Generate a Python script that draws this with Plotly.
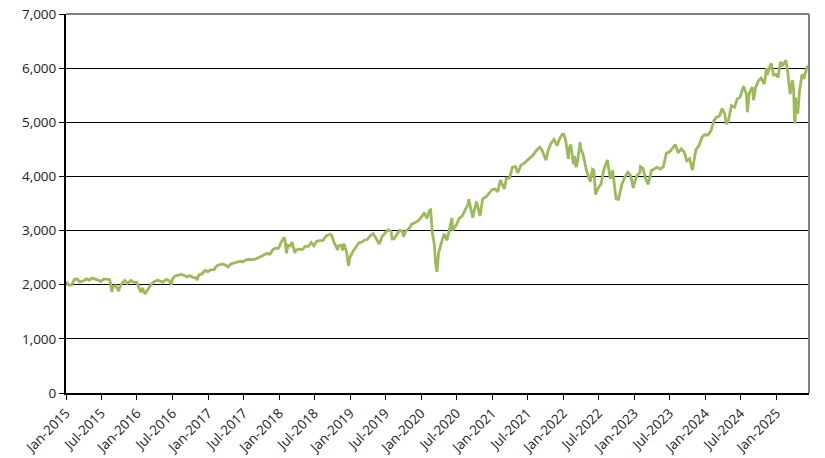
import plotly.graph_objects as go

dates = [
"2015-01-02","2015-01-15","2015-01-30","2015-02-13","2015-02-27","2015-03-13","2015-03-31","2015-04-15","2015-04-30",
"2015-05-15","2015-05-29","2015-06-15","2015-06-30","2015-07-15","2015-07-31","2015-08-14","2015-08-25","2015-08-31",
"2015-09-15","2015-09-29","2015-09-30","2015-10-15","2015-10-30","2015-11-13","2015-11-30","2015-12-15","2015-12-31",
"2016-01-15","2016-01-20","2016-01-29","2016-02-11","2016-02-29","2016-03-15","2016-03-31","2016-04-15","2016-04-29",
"2016-05-13","2016-05-31","2016-06-15","2016-06-27","2016-06-30","2016-07-15","2016-07-29","2016-08-15","2016-08-31",
"2016-09-15","2016-09-30","2016-10-14","2016-10-31","2016-11-04","2016-11-15","2016-11-30","2016-12-15","2016-12-30",
"2017-01-13","2017-01-31","2017-02-15","2017-02-28","2017-03-15","2017-03-31","2017-04-13","2017-04-28","2017-05-15",
"2017-05-31","2017-06-15","2017-06-30","2017-07-14","2017-07-31","2017-08-15","2017-08-31","2017-09-15","2017-09-29",
"2017-10-13","2017-10-31","2017-11-15","2017-11-30","2017-12-15","2017-12-29",
"2018-01-12","2018-01-26","2018-01-31","2018-02-08","2018-02-15","2018-02-28","2018-03-09","2018-03-23","2018-03-29",
"2018-04-13","2018-04-30","2018-05-15","2018-05-31","2018-06-15","2018-06-29","2018-07-13","2018-07-31","2018-08-15",
"2018-08-31","2018-09-20","2018-09-28","2018-10-10","2018-10-29","2018-10-31","2018-11-15","2018-11-23","2018-11-30",
"2018-12-14","2018-12-24","2018-12-31",
"2019-01-15","2019-01-31","2019-02-15","2019-02-28","2019-03-15","2019-03-29","2019-04-15","2019-04-30","2019-05-15",
"2019-05-31","2019-06-14","2019-06-28","2019-07-15","2019-07-31","2019-08-05","2019-08-15","2019-08-30","2019-09-13",
"2019-09-30","2019-10-02","2019-10-15","2019-10-31","2019-11-15","2019-11-29","2019-12-13","2019-12-31",
"2020-01-17","2020-01-31","2020-02-14","2020-02-19","2020-02-28","2020-03-09","2020-03-16","2020-03-23","2020-03-31",
"2020-04-15","2020-04-29","2020-05-13","2020-05-29","2020-06-08","2020-06-11","2020-06-30","2020-07-15","2020-07-31",
"2020-08-14","2020-08-31","2020-09-02","2020-09-23","2020-09-30","2020-10-12","2020-10-30","2020-11-13","2020-11-30",
"2020-12-15","2020-12-31",
"2021-01-15","2021-01-29","2021-02-12","2021-02-26","2021-03-04","2021-03-15","2021-03-31","2021-04-15","2021-04-30",
"2021-05-12","2021-05-28","2021-06-15","2021-06-30","2021-07-15","2021-07-30","2021-08-16","2021-08-31","2021-09-02",
"2021-09-15","2021-09-30","2021-10-04","2021-10-15","2021-10-29","2021-11-15","2021-11-30","2021-12-15","2021-12-29",
"2021-12-31",
"2022-01-03","2022-01-14","2022-01-27","2022-01-31","2022-02-09","2022-02-23","2022-02-28","2022-03-08","2022-03-15",
"2022-03-29","2022-03-31","2022-04-14","2022-04-29","2022-05-11","2022-05-20","2022-05-31","2022-06-08","2022-06-16",
"2022-06-30","2022-07-15","2022-07-29","2022-08-16","2022-08-31","2022-09-12","2022-09-30","2022-10-12","2022-10-31",
"2022-11-15","2022-11-30","2022-12-13","2022-12-28","2022-12-30",
"2023-01-13","2023-01-31","2023-02-02","2023-02-15","2023-02-28","2023-03-13","2023-03-31","2023-04-14","2023-04-28",
"2023-05-15","2023-05-31","2023-06-15","2023-06-30","2023-07-14","2023-07-31","2023-08-15","2023-08-31","2023-09-15",
"2023-09-29","2023-10-13","2023-10-27","2023-10-31","2023-11-15","2023-11-30","2023-12-15","2023-12-29",
"2024-01-16","2024-01-31","2024-02-15","2024-02-29","2024-03-15","2024-03-28","2024-04-10","2024-04-19","2024-04-30",
"2024-05-15","2024-05-31","2024-06-14","2024-06-28","2024-07-16","2024-07-31","2024-08-05","2024-08-15","2024-08-30",
"2024-09-06","2024-09-16","2024-09-30","2024-10-15","2024-10-31","2024-11-11","2024-11-15","2024-11-29","2024-12-06",
"2024-12-18","2024-12-31",
"2025-01-10","2025-01-23","2025-01-31","2025-02-19","2025-02-28","2025-03-13","2025-03-25","2025-03-31","2025-04-04",
"2025-04-08","2025-04-09","2025-04-21","2025-04-30","2025-05-13","2025-05-23","2025-05-30","2025-06-06","2025-06-12",
]

values = [
2058,1992,1995,2097,2105,2053,2068,2107,2086,
2123,2107,2084,2063,2108,2104,2092,1868,1972,
1979,1884,1920,2023,2079,2023,2080,2043,2044,
1880,1859,1940,1829,1932,2015,2060,2081,2065,
2047,2097,2072,2001,2099,2162,2174,2190,2171,
2147,2168,2133,2126,2085,2180,2199,2262,2239,
2275,2279,2350,2364,2385,2363,2329,2384,2402,
2412,2433,2423,2459,2470,2464,2472,2500,2519,
2553,2575,2565,2648,2676,2674,
2786,2873,2824,2581,2732,2714,2786,2588,2641,
2656,2648,2711,2705,2780,2718,2801,2816,2819,
2902,2931,2914,2786,2641,2712,2730,2633,2760,
2600,2351,2507,
2610,2704,2776,2784,2822,2834,2906,2946,2850,
2752,2887,2942,3014,2980,2844,2847,2926,3007,
2977,2887,2996,3038,3120,3141,3169,3231,
3330,3226,3380,3386,2954,2747,2386,2237,2585,
2784,2939,2820,3044,3232,3002,3100,3227,3271,
3373,3500,3580,3237,3363,3534,3270,3585,3622,
3695,3756,
3768,3714,3934,3811,3768,3969,3973,4170,4181,
4063,4204,4246,4298,4360,4395,4479,4523,4537,
4480,4308,4300,4471,4605,4683,4567,4709,4793,
4766,
4796,4663,4326,4516,4587,4226,4374,4170,4262,
4631,4530,4392,4132,4001,3901,4132,4116,3666,
3785,3863,4130,4305,3955,4110,3586,3577,3872,
3992,4080,4019,3783,3840,
3999,4077,4179,4148,3970,3855,4109,4137,4169,
4136,4180,4426,4450,4505,4589,4437,4508,4450,
4288,4327,4117,4194,4502,4568,4719,4770,
4766,4846,5030,5096,5117,5254,5161,4967,5036,
5308,5278,5432,5460,5667,5522,5186,5543,5648,
5408,5634,5762,5815,5705,6001,5870,6032,6090,
5872,5882,
5827,6119,6041,6144,5955,5521,5777,5612,5074,
4982,5457,5158,5569,5886,5802,5912,6000,6045,
]

tick_dates = ["2015-01-01","2015-07-01","2016-01-01","2016-07-01","2017-01-01","2017-07-01","2018-01-01",
              "2018-07-01","2019-01-01","2019-07-01","2020-01-01","2020-07-01","2021-01-01","2021-07-01",
              "2022-01-01","2022-07-01","2023-01-01","2023-07-01","2024-01-01","2024-07-01","2025-01-01"]
tick_labels = ["Jan-2015","Jul-2015","Jan-2016","Jul-2016","Jan-2017","Jul-2017","Jan-2018",
               "Jul-2018","Jan-2019","Jul-2019","Jan-2020","Jul-2020","Jan-2021","Jul-2021",
               "Jan-2022","Jul-2022","Jan-2023","Jul-2023","Jan-2024","Jul-2024","Jan-2025"]
y_ticks = [0, 1000, 2000, 3000, 4000, 5000, 6000, 7000]
y_labels = ["0", "1,000", "2,000", "3,000", "4,000", "5,000", "6,000", "7,000"]

fig = go.Figure()
fig.add_trace(go.Scatter(x=dates, y=values, mode="lines",
                         line=dict(color="#9BBB59", width=2.8), hoverinfo="x+y"))

font = dict(family="Open Sans", size=13.5, color="#222222")
fig.update_layout(
    width=825, height=458,
    margin=dict(l=66, r=16, t=14, b=65),
    paper_bgcolor="white", plot_bgcolor="white",
    showlegend=False,
    font=font,
    xaxis=dict(type="date", range=["2015-01-01", "2025-06-18"], automargin=False,
               tickmode="array", tickvals=tick_dates, ticktext=tick_labels,
               tickangle=-45, ticks="outside", ticklen=5, tickcolor="black",
               showline=True, linecolor="black", linewidth=2,
               showgrid=False, zeroline=False, tickfont=font, ticklabeloverflow="allow"),
    yaxis=dict(range=[0, 7000], tickmode="array", tickvals=y_ticks, ticktext=y_labels,
               automargin=False, ticklabeloverflow="allow",
               ticks="outside", ticklen=5, tickcolor="black",
               showline=True, linecolor="black", linewidth=2,
               showgrid=True, gridcolor="black", gridwidth=1,
               zeroline=False, tickfont=font),
    shapes=[
        dict(type="line", xref="paper", yref="paper", x0=0, x1=1, y0=1, y1=1,
             line=dict(color="#808080", width=2), layer="above"),
        dict(type="line", xref="paper", yref="paper", x0=1, x1=1, y0=0, y1=1,
             line=dict(color="#808080", width=2), layer="above"),
    ],
)

fig.write_html("out.html", config={"displayModeBar": False},
               post_script="document.body.style.margin='0';document.body.style.overflow='hidden';")
